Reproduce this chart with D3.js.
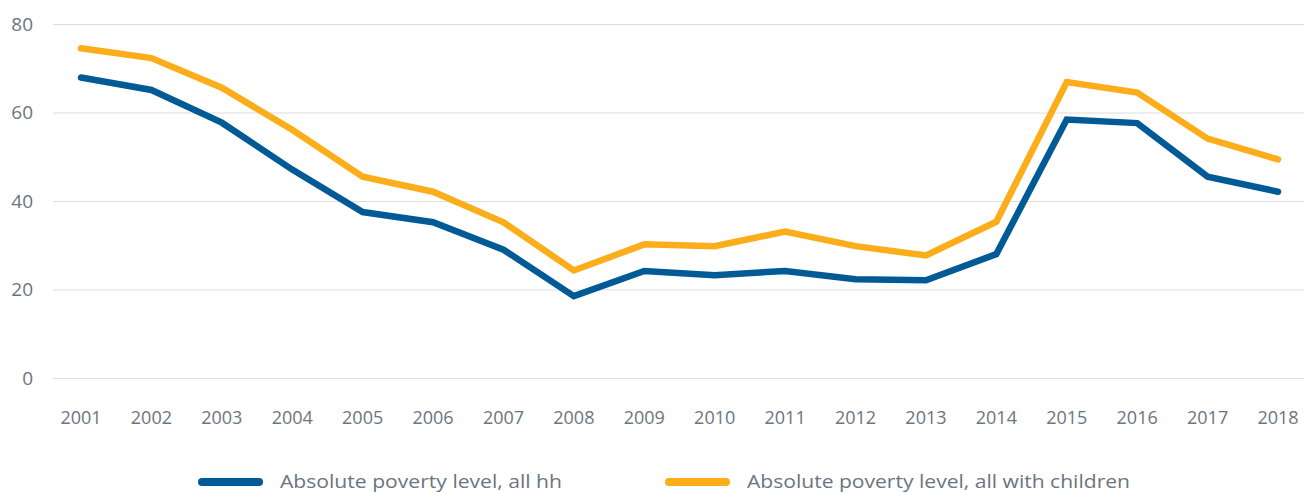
<!DOCTYPE html>
<html>
<head>
<meta charset="utf-8">
<script src="https://cdn.jsdelivr.net/npm/d3@7"></script>
<style>
  body { margin: 0; background: #fff; }
  svg { display: block; font-family: "Open Sans", sans-serif; }
  .axis text { fill: #6b7580; }
</style>
</head>
<body>
<svg width="1304" height="493"></svg>
<script>
var years = ["2001","2002","2003","2004","2005","2006","2007","2008","2009","2010","2011","2012","2013","2014","2015","2016","2017","2018"];
var allHH = [67.9, 65.1, 57.7, 47.1, 37.5, 35.2, 29.0, 18.5, 24.2, 23.2, 24.2, 22.3, 22.1, 28.0, 58.4, 57.6, 45.5, 42.1];
var withChildren = [74.5, 72.3, 65.6, 56.1, 45.5, 42.1, 35.2, 24.3, 30.2, 29.8, 33.1, 29.8, 27.7, 35.3, 66.9, 64.5, 54.1, 49.4];
var yTicks = [0, 20, 40, 60, 80];
var seriesNames = ["Absolute poverty level, all hh", "Absolute poverty level, all with children"];
var colors = ["#005a96", "#fbad1a"];

var svg = d3.select("svg");

var x = d3.scalePoint().domain(years).range([81, 1278]),
    y = d3.scaleLinear().domain([0, 80]).range([378, 24]);

// grid + y labels
var grid = svg.append("g").attr("class", "axis");
grid.selectAll("line")
  .data(yTicks)
  .enter().append("line")
    .attr("x1", 53).attr("x2", 1304)
    .attr("y1", function(d) { return y(d) + 0.5; })
    .attr("y2", function(d) { return y(d) + 0.5; })
    .style("stroke", "#dedede")
    .style("stroke-width", 1.2);
grid.selectAll("text")
  .data(yTicks)
  .enter().append("text")
    .attr("x", 33)
    .attr("y", function(d) { return y(d); })
    .attr("dy", "0.35em")
    .attr("text-anchor", "end")
    .style("font-size", "19px")
    .text(function(d) { return d; });

// x labels
var xAxis = svg.append("g").attr("class", "axis");
xAxis.selectAll("text")
  .data(years)
  .enter().append("text")
    .attr("x", function(d) { return x(d); })
    .attr("y", 424)
    .attr("text-anchor", "middle")
    .style("font-size", "18px")
    .text(function(d) { return d; });

var line = d3.line()
  .x(function(d, i) { return x(years[i]); })
  .y(function(d) { return y(d); });

[allHH, withChildren].forEach(function(s, i) {
  svg.append("path")
    .datum(s)
    .attr("d", line)
    .style("fill", "none")
    .style("stroke", colors[i])
    .style("stroke-width", 6.5)
    .style("stroke-linejoin", "miter")
    .style("stroke-linecap", "round");
});

// legend (text is drawn a bit wider in the original)
var legendX = [198, 665],
    legendW = [282, 383];
var legend = svg.append("g").attr("class", "axis");
seriesNames.forEach(function(name, i) {
  legend.append("line")
    .attr("x1", legendX[i] + 4).attr("x2", legendX[i] + 61)
    .attr("y1", 482).attr("y2", 482)
    .style("stroke", colors[i])
    .style("stroke-width", 8)
    .style("stroke-linecap", "round");
  legend.append("text")
    .attr("x", legendX[i] + 82)
    .attr("y", 482)
    .attr("dy", "0.35em")
    .attr("textLength", legendW[i])
    .attr("lengthAdjust", "spacingAndGlyphs")
    .style("font-size", "18.5px")
    .text(name);
});
</script>
</body>
</html>
